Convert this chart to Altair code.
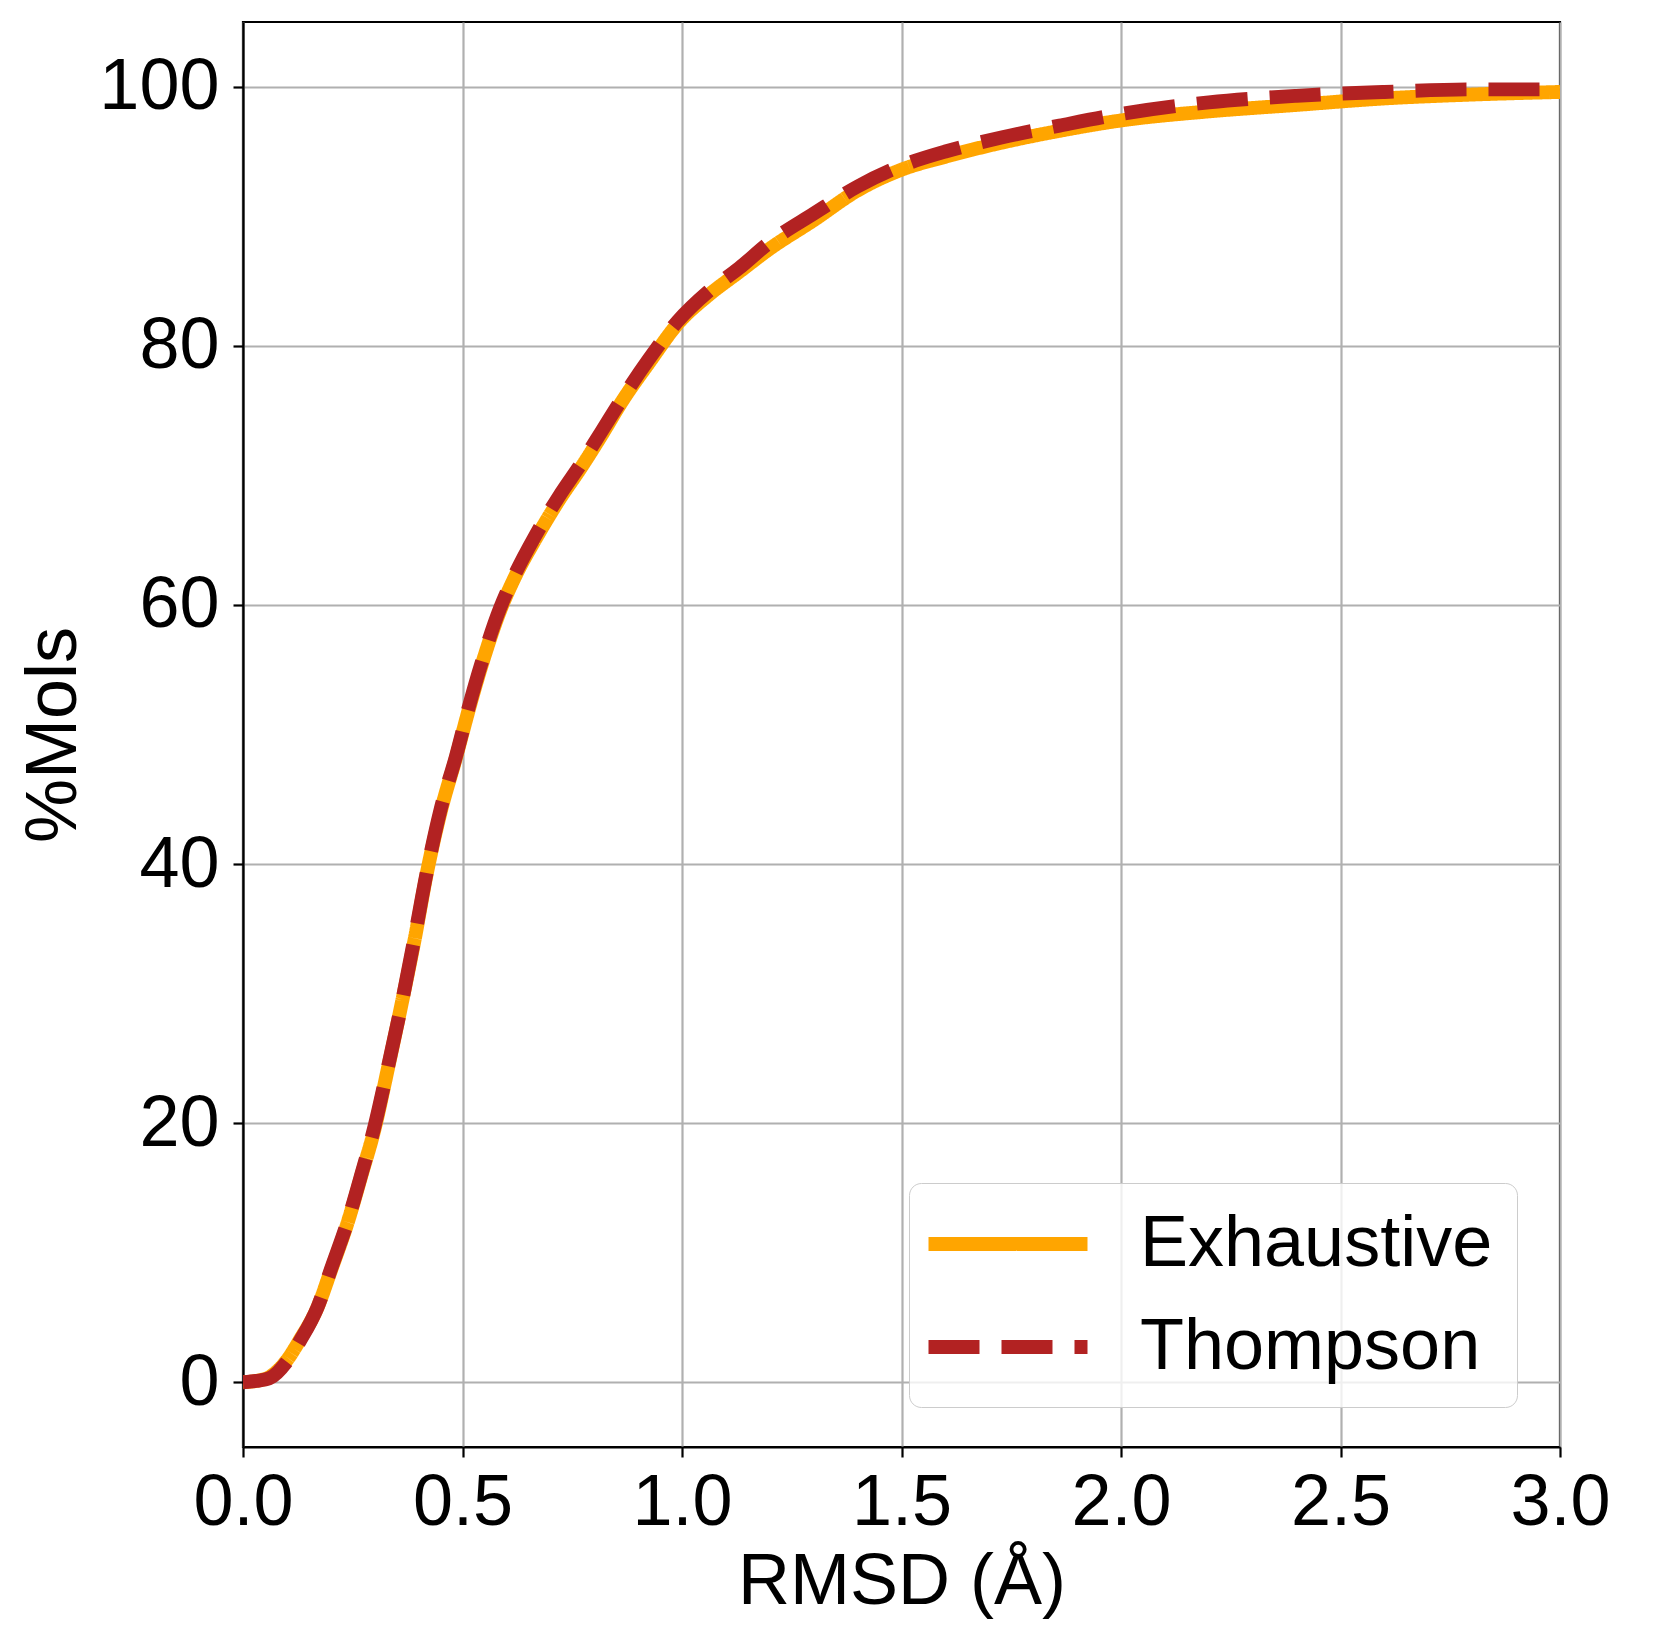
import altair as alt
import pandas as pd

# cumulative % of molecules vs RMSD
exh_rmsd = [0.0, 0.03, 0.06, 0.10, 0.13, 0.17, 0.20, 0.24, 0.27, 0.30, 0.33, 0.36,
            0.39, 0.42, 0.45, 0.485, 0.515, 0.545, 0.585, 0.62, 0.665, 0.72, 0.77,
            0.815, 0.865, 0.925, 0.99, 1.06, 1.13, 1.2, 1.3, 1.4, 1.5, 1.6, 1.73,
            1.86, 2.0, 2.2, 2.4, 2.6, 2.8, 3.0]
exh_pct = [0.0, 0.1, 0.4, 1.7, 3.3, 5.8, 8.6, 12.5, 16.0, 19.6, 24.2, 29.0,
           34.0, 39.5, 44.0, 48.2, 52.0, 55.5, 59.5, 62.2, 65.0, 68.1, 70.6,
           73.0, 75.8, 78.7, 81.7, 83.9, 85.7, 87.5, 89.7, 92.0, 93.6, 94.6, 95.7,
           96.6, 97.4, 98.1, 98.6, 99.1, 99.4, 99.6]

th_rmsd = exh_rmsd
th_pct = [0.0, 0.1, 0.3, 1.6, 3.2, 5.8, 8.7, 12.6, 16.1, 19.8, 24.3, 29.0,
          34.2, 39.6, 44.2, 48.3, 52.2, 55.7, 59.7, 62.4, 65.3, 68.4, 70.9,
          73.3, 76.0, 79.0, 81.9, 84.2, 86.0, 88.0, 90.2, 92.3, 93.9, 95.0, 96.1,
          97.0, 97.9, 98.8, 99.3, 99.6, 99.8, 99.8]

methods = ["Exhaustive", "Thompson"]
colors = ["#ffa500", "#b22222"]
x_ticks = [0.0, 0.5, 1.0, 1.5, 2.0, 2.5, 3.0]
y_ticks = [0, 20, 40, 60, 80, 100]

df = pd.concat([
    pd.DataFrame({"rmsd": exh_rmsd, "pct": exh_pct, "method": methods[0], "order": range(len(exh_rmsd))}),
    pd.DataFrame({"rmsd": th_rmsd, "pct": th_pct, "method": methods[1], "order": range(len(th_rmsd))}),
])

FONT = "Liberation Sans"
FS = 72

chart = (
    alt.Chart(df)
    .mark_line(strokeWidth=13.9, clip=True, interpolate="monotone")
    .encode(
        x=alt.X(
            "rmsd:Q",
            title="RMSD (Å)",
            scale=alt.Scale(domain=[0, 3], nice=False, zero=False),
            axis=alt.Axis(values=x_ticks, format=".1f", labelPadding=10,
                          labelFlush=False, titlePadding=8),
        ),
        y=alt.Y(
            "pct:Q",
            title="%Mols",
            scale=alt.Scale(domain=[-5, 105], nice=False, zero=False),
            axis=alt.Axis(values=y_ticks, labelPadding=14, titlePadding=8),
        ),
        color=alt.Color(
            "method:N",
            title=None,
            scale=alt.Scale(domain=methods, range=colors),
        ),
        strokeDash=alt.StrokeDash(
            "method:N",
            title=None,
            scale=alt.Scale(domain=methods, range=[[1, 0], [51, 22]]),
        ),
        order="order:Q",
    )
    .properties(
        width=1317,
        height=1425,
        autosize=alt.AutoSizeParams(type="none"),
        padding={"left": 235, "top": 14, "right": 90, "bottom": 195},
    )
    .configure_view(stroke="black", strokeWidth=2.2)
    .configure_axis(
        labelFont=FONT,
        titleFont=FONT,
        labelFontSize=FS,
        titleFontSize=FS,
        titleFontWeight="normal",
        labelColor="black",
        titleColor="black",
        domainColor="black",
        domainWidth=2.2,
        tickColor="black",
        tickWidth=2.2,
        tickSize=10,
        gridColor="#b0b0b0",
        gridWidth=2.2,
    )
    .configure_legend(
        orient="none",
        legendX=666,
        legendY=1161,
        padding=24,
        fillColor="rgba(255,255,255,0.8)",
        strokeColor="#cccccc",
        cornerRadius=12,
        labelFont=FONT,
        labelFontSize=FS,
        labelColor="black",
        labelLimit=1000,
        labelOffset=95,
        rowPadding=30,
        symbolType="M-2.65,0H2.65",
        symbolSize=3600,
        symbolOffset=38,
        symbolStrokeWidth=13.9,
    )
)

chart.save("out.html", embed_options={"renderer": "svg", "actions": False})
